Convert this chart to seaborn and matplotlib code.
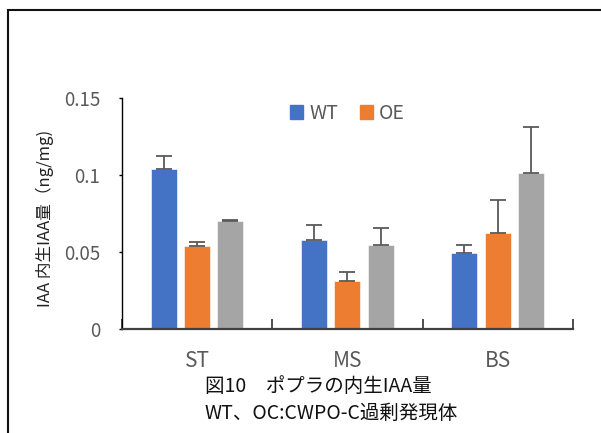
import numpy as np
import pandas as pd
import seaborn as sns
import matplotlib.pyplot as plt
from matplotlib.patches import Rectangle

# values
sites = ["ST", "MS", "BS"]
lines = ["WT", "OE", " "]
wt = [0.104, 0.0576, 0.0491]
oe = [0.0539, 0.0312, 0.0623]
other = [0.0701, 0.0548, 0.1013]
wt_err = [0.0084, 0.0101, 0.0052]
oe_err = [0.0026, 0.0060, 0.0217]
other_err = [0.0007, 0.0110, 0.0301]
colors = ["#4472C4", "#ED7D31", "#A5A5A5"]

df = pd.DataFrame({
    "site": sites * 3,
    "line": [l for l in lines for _ in sites],
    "value": wt + oe + other,
    "err": wt_err + oe_err + other_err,
})

sns.set_style("white")
plt.rcParams["font.family"] = ["Noto Sans CJK JP", "DejaVu Sans"]

fig = plt.figure(figsize=(6.01, 4.33), dpi=100)
ax = fig.add_axes([0.203, 0.2402, 0.750, 0.5335])

sns.barplot(data=df, x="site", y="value", hue="line", palette=colors,
            saturation=1, width=0.665, gap=0.22, errorbar=None, ax=ax,
            legend=False, edgecolor="white", linewidth=0.4)

# upward-only error bars on each bar
for i, line in enumerate(lines):
    sub = df[df["line"] == line]
    bars = ax.containers[i]
    xs = [b.get_x() + b.get_width() / 2 for b in bars]
    ax.errorbar(xs, sub["value"], yerr=[np.zeros(len(sub)), sub["err"]],
                fmt="none", ecolor="#595959", elinewidth=1.3, capsize=5.5,
                capthick=1.3)

ax.set_xlim(-0.5, 2.5)
ax.set_ylim(0, 0.15)
ax.set_yticks([0, 0.05, 0.1, 0.15])
ax.set_yticklabels(["0", "0.05", "0.1", "0.15"])
ax.set_xlabel("")
ax.set_ylabel("IAA 内生IAA量（ng/mg)", fontsize=12, color="#222222")
ax.yaxis.set_label_coords(-0.15, 0.48)

for s in ["top", "right"]:
    ax.spines[s].set_visible(False)
ax.spines["left"].set_color("#000000")
ax.spines["left"].set_linewidth(1.0)
ax.spines["bottom"].set_color("#404040")
ax.spines["bottom"].set_linewidth(1.6)

ax.tick_params(axis="y", which="major", direction="out", length=2.5, width=1,
               color="#000000", labelsize=13.5, labelcolor="#595959", pad=13, left=True)
ax.tick_params(axis="x", which="major", length=0, labelsize=15,
               labelcolor="#595959", pad=15)
ax.set_xticks([-0.5, 0.5, 1.5, 2.5], minor=True)
ax.tick_params(axis="x", which="minor", direction="in", length=7, width=1.3,
               color="#404040", bottom=True)

handles = [Rectangle((0, 0), 1, 1, color=c) for c in colors[:2]]
fig.legend(handles, lines[:2], loc="center", bbox_to_anchor=(0.578, 0.739),
           ncol=2, frameon=False, handlelength=0.7, handleheight=0.7,
           handletextpad=0.3, columnspacing=1.1, fontsize=14, labelcolor="#595959")

fig.text(205 / 601, 1 - 387 / 433, "図10　ポプラの内生IAA量", fontsize=14,
         ha="left", va="center", color="#111111")
fig.text(205 / 601, 1 - 413 / 433, "WT、OC:CWPO-C過剰発現体", fontsize=14,
         ha="left", va="center", color="#111111")

# outer frame (cropped on the right and bottom)
fig.patches.append(Rectangle((8 / 601, -0.2), 1.2, 1.2 - 10 / 433,
                             transform=fig.transFigure, fill=False,
                             edgecolor="#111111", linewidth=1.5))

fig.savefig("out.png", dpi=100)
